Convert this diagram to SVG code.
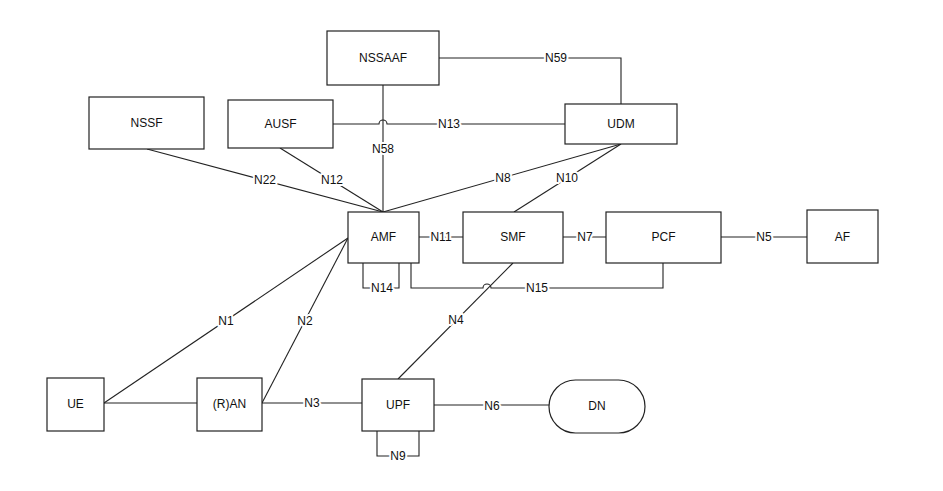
<svg xmlns="http://www.w3.org/2000/svg" width="943" height="491" viewBox="0 0 943 491">
<style>
.box{fill:#fff;stroke:#222;stroke-width:1.2}
.ln{fill:none;stroke:#222;stroke-width:1.1}
.t{font-family:"Liberation Sans",Arial,sans-serif;font-size:12px;fill:#111;text-anchor:middle}
.lb{font-family:"Liberation Sans",Arial,sans-serif;font-size:12px;fill:#111;text-anchor:middle;stroke:#fff;stroke-width:4;paint-order:stroke;stroke-linejoin:round}
</style>
<rect width="943" height="491" fill="#fff"/>
<g id="connectors">
<path class="ln" d="M439,58 H621 V104"/>
<path class="ln" d="M333,124 H379 A4,4 0 0 1 387,124 H565"/>
<path class="ln" d="M383,85 V212"/>
<path class="ln" d="M147,149 L383,212"/>
<path class="ln" d="M280,148 L383,212"/>
<path class="ln" d="M621,144 L383,212"/>
<path class="ln" d="M621,144 L514,212"/>
<path class="ln" d="M419,237 H463"/>
<path class="ln" d="M563,237 H606"/>
<path class="ln" d="M721,237 H807"/>
<path class="ln" d="M363,263 V288 H399 V263"/>
<path class="ln" d="M411,263 V288 H483 A4,4 0 0 1 491,288 H663 V263"/>
<path class="ln" d="M104,403 L348,238"/>
<path class="ln" d="M262,403 L348,238"/>
<path class="ln" d="M104,403 H197"/>
<path class="ln" d="M262,403 H362"/>
<path class="ln" d="M398,379 L513,263"/>
<path class="ln" d="M434,405 H549"/>
<path class="ln" d="M377,431 V456 H419 V431"/>
<text class="lb" x="556" y="62">N59</text>
<text class="lb" x="449" y="128">N13</text>
<text class="lb" x="383" y="153">N58</text>
<text class="lb" x="265" y="184">N22</text>
<text class="lb" x="332" y="184">N12</text>
<text class="lb" x="503" y="182">N8</text>
<text class="lb" x="567" y="182">N10</text>
<text class="lb" x="441" y="241">N11</text>
<text class="lb" x="585" y="241">N7</text>
<text class="lb" x="764" y="241">N5</text>
<text class="lb" x="382" y="292">N14</text>
<text class="lb" x="537" y="292">N15</text>
<text class="lb" x="226" y="325">N1</text>
<text class="lb" x="305" y="325">N2</text>
<text class="lb" x="456" y="324">N4</text>
<text class="lb" x="312" y="407">N3</text>
<text class="lb" x="492" y="410">N6</text>
<text class="lb" x="398" y="460">N9</text>
</g>
<g id="NSSAAF"><rect class="box" x="327" y="31" width="112" height="54"/><text class="t" x="383" y="62">NSSAAF</text></g>
<g id="NSSF"><rect class="box" x="89" y="97" width="115" height="52"/><text class="t" x="146.5" y="127">NSSF</text></g>
<g id="AUSF"><rect class="box" x="228" y="100" width="105" height="48"/><text class="t" x="280.5" y="128">AUSF</text></g>
<g id="UDM"><rect class="box" x="565" y="104" width="112" height="40"/><text class="t" x="621" y="128">UDM</text></g>
<g id="AMF"><rect class="box" x="348" y="212" width="71" height="51"/><text class="t" x="383.5" y="241">AMF</text></g>
<g id="SMF"><rect class="box" x="463" y="212" width="100" height="51"/><text class="t" x="513" y="241">SMF</text></g>
<g id="PCF"><rect class="box" x="606" y="212" width="115" height="51"/><text class="t" x="663.5" y="241">PCF</text></g>
<g id="AF"><rect class="box" x="807" y="210" width="71" height="53"/><text class="t" x="842.5" y="241">AF</text></g>
<g id="UE"><rect class="box" x="47" y="378" width="57" height="53"/><text class="t" x="75.5" y="408">UE</text></g>
<g id="RAN"><rect class="box" x="197" y="378" width="65" height="53"/><text class="t" x="229.5" y="408">(R)AN</text></g>
<g id="UPF"><rect class="box" x="362" y="379" width="72" height="52"/><text class="t" x="398" y="409">UPF</text></g>
<g id="DN"><rect class="box" x="549" y="380" width="96" height="53" rx="26.5" ry="26.5"/><text class="t" x="597" y="410">DN</text></g>
</svg>
